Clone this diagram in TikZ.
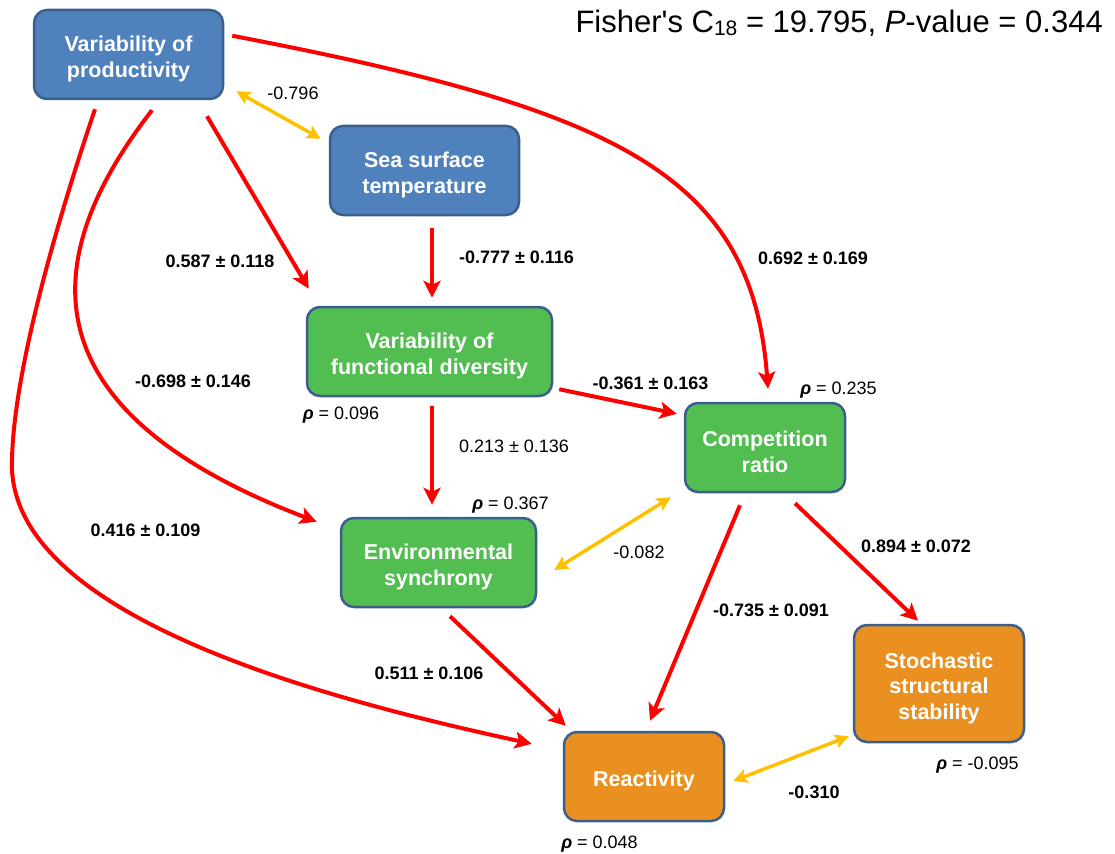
\documentclass[tikz,border=0pt]{standalone}
\usepackage{fontspec}
\setmainfont{Liberation Sans}
\usetikzlibrary{arrows.meta,calc}

\definecolor{bluebox}{RGB}{79,129,189}
\definecolor{greenbox}{RGB}{82,189,80}
\definecolor{orangebox}{RGB}{233,144,32}
\definecolor{boxline}{RGB}{58,95,140}
\definecolor{pathred}{RGB}{255,0,0}
\definecolor{corryellow}{RGB}{255,192,0}

\tikzset{
  box/.style={draw=boxline, line width=2.5pt, rounded corners=13pt,
    text=white, align=center, inner sep=0pt,
    font=\bfseries\fontsize{21.5}{25.5}\selectfont},
  oneline/.style={text height=24.7pt},
  twolines/.style={text height=50.2pt},
  threelines/.style={text height=75.7pt},
  causal/.style={draw=pathred, line width=4pt,
    -{Stealth[length=17pt,width=17pt,inset=4pt]}},
  corr/.style={draw=corryellow, line width=3.5pt,
    {Stealth[length=14pt,width=14pt,inset=3pt]}-{Stealth[length=14pt,width=14pt,inset=3pt]}},
  coef/.style={inner sep=0pt, text height=12.9pt, text depth=0pt,
    font=\bfseries\fontsize{18}{18}\selectfont},
  coefn/.style={inner sep=0pt, text height=12.9pt, text depth=0pt,
    font=\fontsize{18}{18}\selectfont},
}
\newcommand{\rhoeq}[1]{{\bfseries\itshape ρ} = #1}

\begin{document}
\begin{tikzpicture}[x=1pt,y=-1pt]
\useasboundingbox (0,0) rectangle (1115,853);

% variables
\node[box, twolines, fill=bluebox, minimum width=189pt, minimum height=89pt] (vp) at (128.5,54.5) {Variability of\\productivity};
\node[box, twolines, fill=bluebox, minimum width=189pt, minimum height=89pt] (sst) at (424.5,170.5) {Sea surface\\temperature};
\node[box, twolines, fill=greenbox, minimum width=245pt, minimum height=89pt] (vfd) at (429.5,351.5) {Variability of\\functional diversity};
\node[box, twolines, fill=greenbox, minimum width=160pt, minimum height=89pt] (cr) at (765,447.5) {Competition\\ratio};
\node[box, twolines, fill=greenbox, minimum width=195pt, minimum height=89pt] (es) at (438.5,562.5) {Environmental\\synchrony};
\node[box, threelines, fill=orangebox, minimum width=170pt, minimum height=117pt] (sss) at (939,683.5) {Stochastic\\structural\\stability};
\node[box, oneline, fill=orangebox, minimum width=160pt, minimum height=89pt] (re) at (644,776.5) {Reactivity};

% directed paths
\draw[causal] ($(vp.south)+(78.5,16)$) -- ($(vfd.north west)+(3,-17)$);
\draw[causal] ($(vp.north east)+(8,27)$) .. controls (620,110) and (752,175) .. ($(cr.north)+(3,-13)$);
\draw[causal] ($(vp.south)+(23.5,10)$) .. controls (20,280) and (50,420) .. ($(es.north west)+(-23,5)$);
\draw[causal] ($(vp.south)+(-33.5,9)$) .. controls (70,183) and (10,370) .. (12,470)
  .. controls (20,620) and (330,700) .. ($(re.north west)+(-31,13)$);
\draw[causal] ($(sst.south)+(7.5,12)$) -- ($(vfd.north)+(2.5,-8)$);
\draw[causal] ($(vfd.south)+(2.5,9)$) -- ($(es.north)+(-6.5,-12)$);
\draw[causal] ($(vfd.south east)+(6,-8)$) -- ($(cr.north west)+(-7,12)$);
\draw[causal] ($(cr.south)+(-25,12)$) -- ($(re.north)+(6,-10)$);
\draw[causal] ($(cr.south)+(30,10)$) -- ($(sss.north)+(-21,-3)$);
\draw[causal] ($(es.south)+(11.5,8)$) -- ($(re.north west)+(3,-5)$);

% correlations
\draw[corr] ($(vp.south east)+(12,-9)$) -- ($(sst.north west)+(-8,14)$);
\draw[corr] ($(cr.south west)+(-13,4)$) -- ($(es.east)+(17,7.5)$);
\draw[corr] ($(re.east)+(8,4.5)$) -- ($(sss.south west)+(-4,-7)$);

% coefficients
\node[coefn] (l1) at (293,93) {-0.796};
\node[coef] (l2) at (220,261) {0.587 ± 0.118};
\node[coef] (l3) at (516.5,257) {-0.777 ± 0.116};
\node[coef] (l4) at (813,258) {0.692 ± 0.169};
\node[coef] (l5) at (193,381) {-0.698 ± 0.146};
\node[coef] (l6) at (650.5,383) {-0.361 ± 0.163};
\node[coefn] (l7) at (514,446) {0.213 ± 0.136};
\node[coef] (l8) at (145.5,530) {0.416 ± 0.109};
\node[coefn] (l9) at (639,552) {-0.082};
\node[coef] (l10) at (916,546) {0.894 ± 0.072};
\node[coef] (l11) at (771,610) {-0.735 ± 0.091};
\node[coef] (l12) at (429,673) {0.511 ± 0.106};
\node[coef] (l13) at (814,792) {-0.310};

% explained variance
\node[coefn] (r1) at (838.5,388) {\rhoeq{0.235}};
\node[coefn] (r2) at (341,413) {\rhoeq{0.096}};
\node[coefn] (r3) at (510.5,503) {\rhoeq{0.367}};
\node[coefn] (r4) at (977.5,763) {\rhoeq{-0.095}};
\node[coefn] (r5) at (599.5,842) {\rhoeq{0.048}};

% model fit
\node[anchor=base east, inner sep=0pt, font=\fontsize{31}{31}\selectfont] (fit) at (1103,33)
  {Fisher\textquotesingle s C\raisebox{-2.5pt}{\fontsize{21}{21}\selectfont 18} = 19.795, \textit{P}-value = 0.344};
\end{tikzpicture}
\end{document}
